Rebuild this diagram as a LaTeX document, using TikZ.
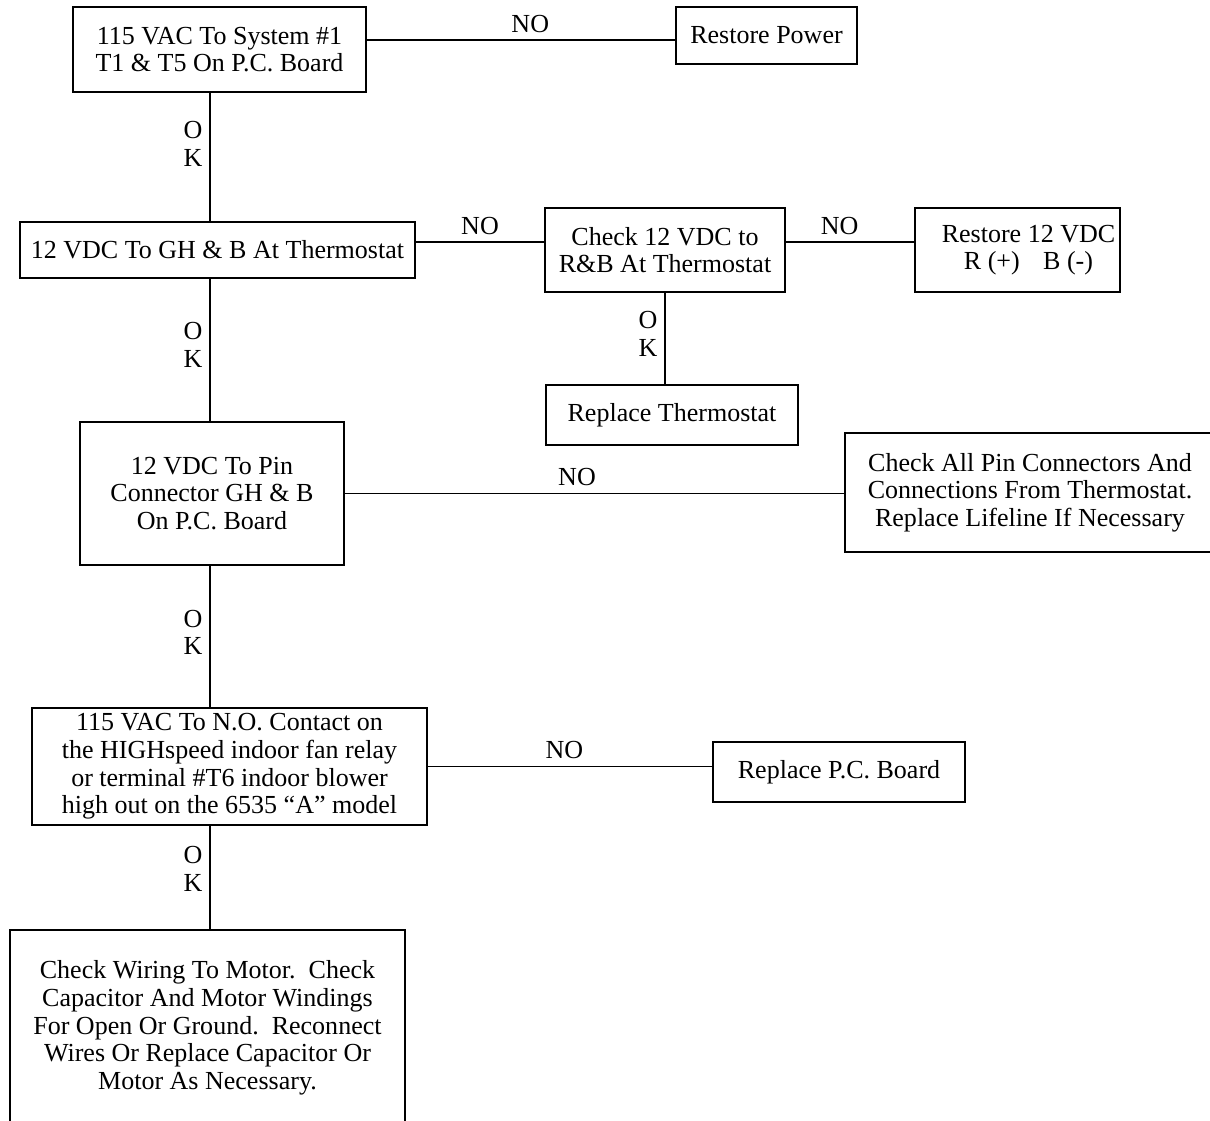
\documentclass[tikz,border=0pt]{standalone}
\usepackage{fontspec}
\setmainfont{Liberation Serif}
\usetikzlibrary{calc}
\def\px{0.025cm}
\tikzset{
  txt/.style={font=\fontsize{18.5}{19.7}\selectfont},
  box/.style={draw, txt, align=center, inner sep=0pt},
  wh/.style 2 args={minimum width=#1*\px, minimum height=#2*\px},
  lbl/.style={txt, align=center, inner sep=5pt},
}
\begin{document}
\begin{tikzpicture}[x=.025cm, y=-.025cm, line width=.8pt]
  \useasboundingbox (0,0) rectangle (1210,1120);
  \coordinate (spine) at (210,0);
  % boxes
  \node[box, wh={293}{85}]  (b1)  at (219.5,49.5) {115 VAC To System \#1\\T1 \& T5 On P.C. Board};
  \node[box, wh={181}{57}]  (b2)  at (766.5,35.5) {Restore Power};
  \node[box, wh={395}{56}]  (b3)  at (217.5,250)  {12 VDC To GH \& B At Thermostat};
  \node[box, wh={240}{84}]  (b4)  at (665,250)    {Check 12 VDC to\\R\&B At Thermostat};
  \node[box, wh={205}{84}]  (b5)  at (1017.5,250) {\hspace*{0.55cm}Restore 12 VDC\\\hspace*{0.55cm}R (+)\hspace{0.9em}B (-)};
  \node[box, wh={252}{60}]  (b6)  at (672,415)    {Replace Thermostat};
  \node[box, wh={264}{143}] (b7)  at (212,493.5)  {12 VDC To Pin\\Connector GH \& B\\On P.C. Board};
  \node[box, wh={370}{119}] (b8)  at (1030,492.5) {Check All Pin Connectors And\\Connections From Thermostat.\\Replace Lifeline If Necessary};
  \node[box, wh={395}{117}] (b9)  at (229.5,766.5) {115 VAC To N.O. Contact on\\the HIGHspeed indoor fan relay\\or terminal \#T6 indoor blower\\high out on the 6535 “A” model};
  \node[box, wh={252}{60}]  (b10) at (839,772)    {Replace P.C. Board};
  \node[box, wh={395}{196}] (b11) at (207.5,1028) {Check Wiring To Motor.\ \ Check\\Capacitor And Motor Windings\\For Open Or Ground.\ \ Reconnect\\Wires Or Replace Capacitor Or\\Motor As Necessary.};
  % connectors
  \draw ($(b1.east)+(0,-9.5)$) coordinate (n1) -- (n1 -| b2.west) node[lbl, above, pos=.53] {NO};
  \draw (b1.south -| spine) -- (b3.north -| spine) node[lbl, left, pos=.4] {O\\K};
  \draw ($(b4.west)+(0,-8)$) coordinate (n2) -- (n2 -| b3.east) node[lbl, above, pos=.5] {NO};
  \draw (n2 -| b4.east) -- (n2 -| b5.west) node[lbl, above, pos=.42] {NO};
  \draw (b4.south) -- (b4.south |- b6.north) node[lbl, left, pos=.45] {O\\K};
  \draw (b3.south -| spine) -- (b7.north -| spine) node[lbl, left, pos=.465] {O\\K};
  \draw (b7.east) -- (b7.east -| b8.west) node[lbl, above, pos=.465] {NO};
  \draw (b7.south -| spine) -- (b9.north -| spine) node[lbl, left, pos=.47] {O\\K};
  \draw (b9.east) -- (b9.east -| b10.west) node[lbl, above, pos=.48] {NO};
  \draw (b9.south -| spine) -- (b11.north -| spine) node[lbl, left, pos=.42] {O\\K};
\end{tikzpicture}
\end{document}
